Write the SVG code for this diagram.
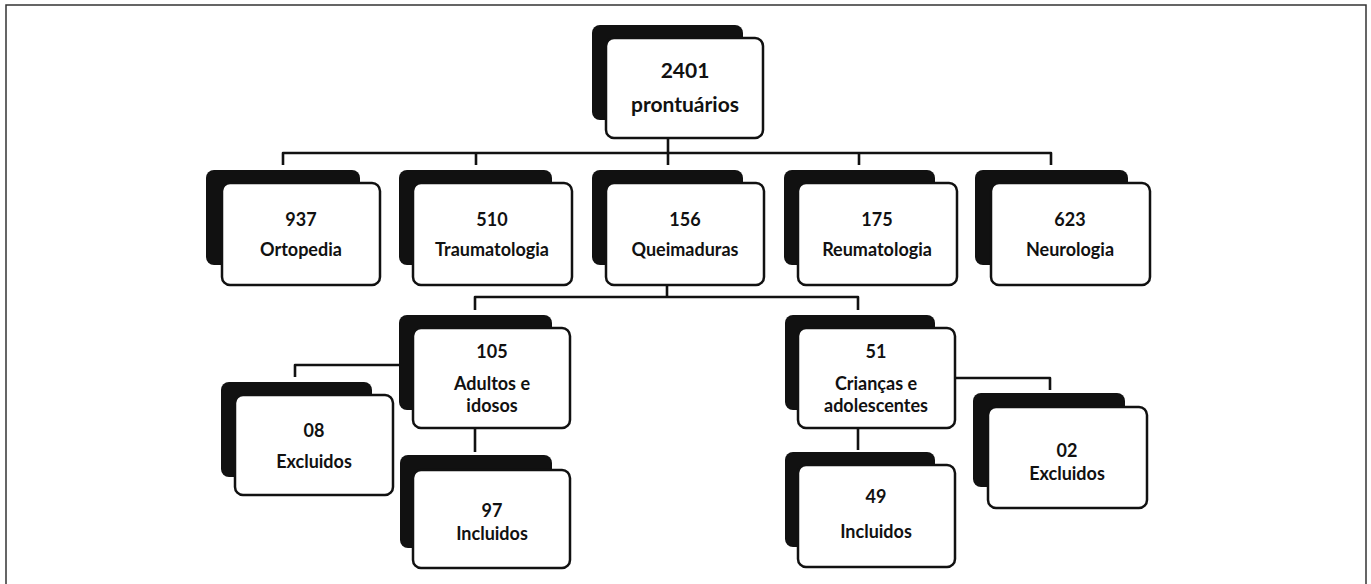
<svg xmlns="http://www.w3.org/2000/svg" width="1371" height="584" viewBox="0 0 1371 584">
<style>
.sh{fill:#111;}
.bx{fill:#fff;stroke:#111;stroke-width:2.5;}
.t{font-family:Lato,"Liberation Sans",sans-serif;font-weight:bold;font-size:18px;fill:#111;text-anchor:middle;}
.tb{font-size:21px;}
.c{fill:none;stroke:#111;stroke-width:2.6;stroke-linejoin:round;}
.fr{fill:none;stroke:#333;stroke-width:1.5;}
</style>
<rect width="1371" height="584" fill="#fff"/>
<path class="fr" d="M6,590 V5 H1366 V590"/>
<g id="connectors">
<path class="c" d="M668,138 V153"/>
<path class="c" d="M283,165 V153 H1051 V165"/>
<path class="c" d="M476,153 V165 M668,153 V165 M859,153 V165"/>
<path class="c" d="M667,285 V297"/>
<path class="c" d="M475,310 V297 H858 V310"/>
<path class="c" d="M413,365 H295 V377"/>
<path class="c" d="M475,428 V452"/>
<path class="c" d="M955,378 H1050 V390"/>
<path class="c" d="M858,428 V450"/>
</g>
<g id="n2401">
<rect class="sh" x="592" y="25" width="151" height="95" rx="8"/>
<rect class="bx" x="606" y="38" width="157" height="100" rx="8"/>
<text class="t tb" x="685" y="78">2401</text>
<text class="t tb" x="685" y="112">prontuários</text>
</g>
<g id="n937">
<rect class="sh" x="206" y="170" width="154" height="95" rx="8"/>
<rect class="bx" x="222" y="183" width="158" height="102" rx="8"/>
<text class="t" x="301" y="226">937</text>
<text class="t" x="301" y="256">Ortopedia</text>
</g>
<g id="n510">
<rect class="sh" x="399" y="170" width="153" height="95" rx="8"/>
<rect class="bx" x="413" y="183" width="159" height="102" rx="8"/>
<text class="t" x="492" y="226">510</text>
<text class="t" x="492" y="256">Traumatologia</text>
</g>
<g id="n156">
<rect class="sh" x="592" y="170" width="151" height="95" rx="8"/>
<rect class="bx" x="606" y="183" width="158" height="102" rx="8"/>
<text class="t" x="685" y="226">156</text>
<text class="t" x="685" y="256">Queimaduras</text>
</g>
<g id="n175">
<rect class="sh" x="784" y="170" width="151" height="95" rx="8"/>
<rect class="bx" x="798" y="183" width="159" height="102" rx="8"/>
<text class="t" x="877" y="226">175</text>
<text class="t" x="877" y="256">Reumatologia</text>
</g>
<g id="n623">
<rect class="sh" x="975" y="170" width="153" height="95" rx="8"/>
<rect class="bx" x="991" y="183" width="159" height="102" rx="8"/>
<text class="t" x="1070" y="226">623</text>
<text class="t" x="1070" y="256">Neurologia</text>
</g>
<g id="n105">
<rect class="sh" x="399" y="315" width="153" height="95" rx="8"/>
<rect class="bx" x="413" y="328" width="157" height="100" rx="8"/>
<text class="t" x="492" y="358">105</text>
<text class="t" x="492" y="390">Adultos e</text>
<text class="t" x="492" y="412">idosos</text>
</g>
<g id="n08">
<rect class="sh" x="221" y="382" width="151" height="95" rx="8"/>
<rect class="bx" x="235" y="395" width="158" height="100" rx="8"/>
<text class="t" x="314" y="437">08</text>
<text class="t" x="314" y="468">Excluidos</text>
</g>
<g id="n97">
<rect class="sh" x="400" y="455" width="152" height="93" rx="8"/>
<rect class="bx" x="413" y="470" width="157" height="98" rx="8"/>
<text class="t" x="492" y="517">97</text>
<text class="t" x="492" y="540">Incluidos</text>
</g>
<g id="n51">
<rect class="sh" x="785" y="315" width="150" height="95" rx="8"/>
<rect class="bx" x="798" y="328" width="157" height="100" rx="8"/>
<text class="t" x="876" y="358">51</text>
<text class="t" x="876" y="390">Crianças e</text>
<text class="t" x="876" y="412">adolescentes</text>
</g>
<g id="n02">
<rect class="sh" x="973" y="393" width="152" height="94" rx="8"/>
<rect class="bx" x="988" y="407" width="159" height="101" rx="8"/>
<text class="t" x="1067" y="457">02</text>
<text class="t" x="1067" y="480">Excluidos</text>
</g>
<g id="n49">
<rect class="sh" x="785" y="452" width="150" height="95" rx="8"/>
<rect class="bx" x="798" y="465" width="157" height="102" rx="8"/>
<text class="t" x="876" y="503">49</text>
<text class="t" x="876" y="538">Incluidos</text>
</g>
</svg>
